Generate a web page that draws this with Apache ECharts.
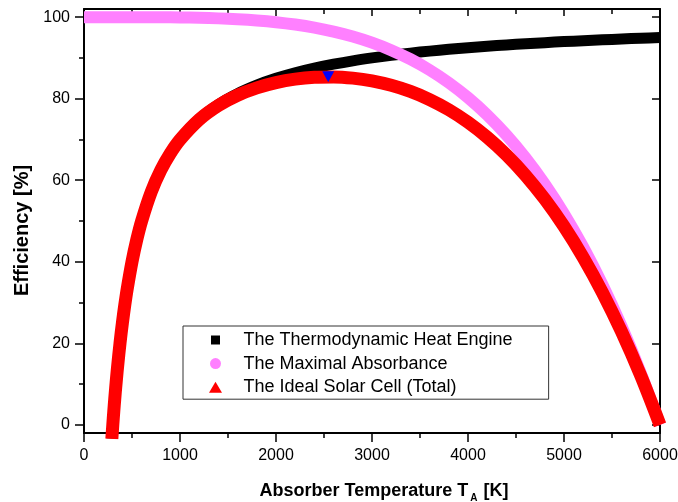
<!DOCTYPE html>
<html>
<head>
<meta charset="utf-8">
<script src="https://cdn.jsdelivr.net/npm/echarts@6/dist/echarts.min.js"></script>
<style>
html,body{margin:0;padding:0;background:#fff;}
#c{width:678px;height:502px;}
</style>
</head>
<body>
<div id="c"></div>
<script>
// Absorber temperature samples [K] for the heat engine and total curves
const tempsEngine = [290, 300, 310, 320, 330, 340, 350, 375, 400, 425, 450, 500, 550, 600, 700, 800, 900, 1000, 1200, 1400, 1600, 1800, 2000, 2200, 2400, 2600, 2800, 3000, 3200, 3400, 3600, 3800, 4000, 4200, 4400, 4600, 4800, 5000, 5200, 5400, 5600, 5800, 6000];
// The Thermodynamic Heat Engine [%]
const engineEff = [-3.45, 0, 3.23, 6.25, 9.09, 11.76, 14.29, 20.0, 25.0, 29.41, 33.33, 40.0, 45.45, 50.0, 57.14, 62.5, 66.67, 70.0, 75.0, 78.57, 81.25, 83.33, 85.0, 86.36, 87.5, 88.46, 89.29, 90.0, 90.63, 91.18, 91.67, 92.11, 92.5, 92.86, 93.18, 93.48, 93.75, 94.0, 94.23, 94.44, 94.64, 94.83, 95.0];
// The Ideal Solar Cell (Total) [%]
const totalEff = [-3.45, 0, 3.23, 6.25, 9.09, 11.76, 14.29, 20.0, 25.0, 29.41, 33.33, 40.0, 45.45, 49.99, 57.13, 62.48, 66.63, 69.95, 74.88, 78.34, 80.84, 82.66, 83.95, 84.80, 85.26, 85.34, 85.05, 84.38, 83.29, 81.78, 79.79, 77.29, 74.23, 70.56, 66.23, 61.18, 55.35, 48.67, 41.07, 32.48, 22.82, 12.03, 0];
// Absorbance temperature samples [K]
const tempsAbs = [0, 200, 400, 600, 800, 1000, 1200, 1400, 1600, 1800, 2000, 2200, 2400, 2600, 2800, 3000, 3200, 3400, 3600, 3800, 4000, 4200, 4400, 4600, 4800, 5000, 5200, 5400, 5600, 5800, 6000];
// The Maximal Absorbance [%]
const absEff = [100, 100, 100, 99.99, 99.97, 99.92, 99.84, 99.70, 99.49, 99.19, 98.77, 98.19, 97.44, 96.47, 95.26, 93.75, 91.91, 89.69, 87.04, 83.91, 80.25, 75.99, 71.08, 65.45, 59.04, 51.77, 43.58, 34.39, 24.12, 12.68, 0];
// Optimum point of total efficiency
const optimumPoint = [2544, 85.4];

// Tick values
const xTicks = [0, 1000, 2000, 3000, 4000, 5000, 6000];
const yMajorTicks = [0, 20, 40, 60, 80, 100];
const yMinorTicks = [10, 30, 50, 70, 90];

const seriesNames = ['The Thermodynamic Heat Engine', 'The Maximal Absorbance', 'The Ideal Solar Cell (Total)'];

const pair = (xs, ys) => xs.map((x, i) => [x, ys[i]]);

const chart = echarts.init(document.getElementById('c'), null, {renderer: 'canvas'});
const FONT = '"Liberation Sans", Arial, sans-serif';

const tickLabel = {color: '#000', fontFamily: FONT, fontSize: 16, formatter: v => String(v)};
const AX = {color: '#000', width: 2};
const TK = {color: '#000', width: 1.5};

chart.setOption({
  animation: false,
  backgroundColor: '#fff',
  grid: {left: 84, right: 18, top: 9, bottom: 69, containLabel: false, outerBoundsMode: 'none'},
  legend: {
    orient: 'vertical',
    left: 183,
    top: 326,
    padding: [5, 36, 3, 26],
    itemGap: 5.6,
    itemWidth: 13,
    itemHeight: 11,
    borderColor: '#333',
    borderWidth: 1,
    backgroundColor: '#fff',
    textStyle: {fontFamily: FONT, fontSize: 18, color: '#000', lineHeight: 16, padding: [0, 0, 0, 16.5]},
    data: [
      {name: seriesNames[0], icon: 'path://M0,0L0,0M2,1L11,1L11,10L2,10ZM13,11L13,11', itemStyle: {color: '#000'}},
      {name: seriesNames[1], icon: 'circle', itemStyle: {color: '#ff80ff'}},
      {name: seriesNames[2], icon: 'triangle', itemStyle: {color: '#ff0000'}}
    ]
  },
  xAxis: [{
    type: 'value', min: 0, max: 6000, interval: 1000, position: 'bottom',
    axisLine: {show: true, onZero: false, lineStyle: AX},
    axisTick: {show: true, inside: false, length: 9, lineStyle: TK},
    minorTick: {show: true, splitNumber: 2, length: 5, lineStyle: TK},
    splitLine: {show: false},
    axisLabel: Object.assign({margin: 15, customValues: xTicks}, tickLabel),
    name: '{b|Absorber Temperature T}{s|A}{b|[K]}',
    nameLocation: 'middle',
    nameGap: 46,
    nameTextStyle: {
      padding: [0, 0, 0, 24],
      rich: {
        b: {fontFamily: FONT, fontSize: 18, fontWeight: 'bold', color: '#000'},
        s: {fontFamily: FONT, fontSize: 10, fontWeight: 'bold', color: '#000', padding: [14, 6, 0, 2]}
      }
    }
  }, {
    type: 'value', min: 0, max: 6000, interval: 1000, position: 'top',
    axisLine: {show: true, onZero: false, lineStyle: AX},
    axisTick: {show: true, inside: true, length: 7, lineStyle: TK},
    minorTick: {show: true, splitNumber: 2, length: 5, lineStyle: TK},
    splitLine: {show: false},
    axisLabel: {show: false}
  }],
  yAxis: [{
    type: 'value', min: -2, max: 102, position: 'left',
    axisLine: {show: true, onZero: false, lineStyle: AX},
    axisTick: {show: true, inside: false, length: 9, customValues: yMajorTicks, lineStyle: TK},
    axisLabel: Object.assign({margin: 14, customValues: yMajorTicks}, tickLabel),
    splitLine: {show: false},
    name: 'Efficiency [%]',
    nameLocation: 'middle',
    nameGap: 52,
    nameTextStyle: {fontFamily: FONT, fontSize: 20, fontWeight: 'bold', color: '#000', padding: [0, 19, 0, 0]}
  }, {
    type: 'value', min: -2, max: 102, position: 'left', offset: 0,
    axisLine: {show: false},
    axisTick: {show: true, inside: false, length: 5, customValues: yMinorTicks, lineStyle: TK},
    axisLabel: {show: false},
    splitLine: {show: false}
  }, {
    type: 'value', min: -2, max: 102, position: 'right',
    axisLine: {show: true, onZero: false, lineStyle: AX},
    axisTick: {show: true, inside: true, length: 8, customValues: yMajorTicks, lineStyle: TK},
    axisLabel: {show: false},
    splitLine: {show: false}
  }, {
    type: 'value', min: -2, max: 102, position: 'right', offset: 0,
    axisLine: {show: false},
    axisTick: {show: true, inside: true, length: 5, customValues: yMinorTicks, lineStyle: TK},
    axisLabel: {show: false},
    splitLine: {show: false}
  }],
  series: [{
    name: seriesNames[0], type: 'line', xAxisIndex: 0, yAxisIndex: 0,
    data: pair(tempsEngine, engineEff), showSymbol: false, smooth: 0.3, clip: true,
    lineStyle: {color: '#000', width: 11}, itemStyle: {color: '#000'}, z: 2
  }, {
    name: seriesNames[1], type: 'line', xAxisIndex: 0, yAxisIndex: 0,
    data: pair(tempsAbs, absEff), showSymbol: false, smooth: 0.3, clip: true,
    lineStyle: {color: '#ff80ff', width: 12}, itemStyle: {color: '#ff80ff'}, z: 3
  }, {
    name: seriesNames[2], type: 'line', xAxisIndex: 0, yAxisIndex: 0,
    data: pair(tempsEngine, totalEff), showSymbol: false, smooth: 0.3, clip: true,
    lineStyle: {color: '#ff0000', width: 13}, itemStyle: {color: '#ff0000'}, z: 4
  }, {
    name: 'optimum', type: 'scatter', xAxisIndex: 0, yAxisIndex: 0,
    data: [optimumPoint], symbol: 'triangle', symbolRotate: 180, symbolSize: [12, 11],
    itemStyle: {color: '#0000ff', opacity: 1}, z: 5
  }]
});
</script>
</body>
</html>
